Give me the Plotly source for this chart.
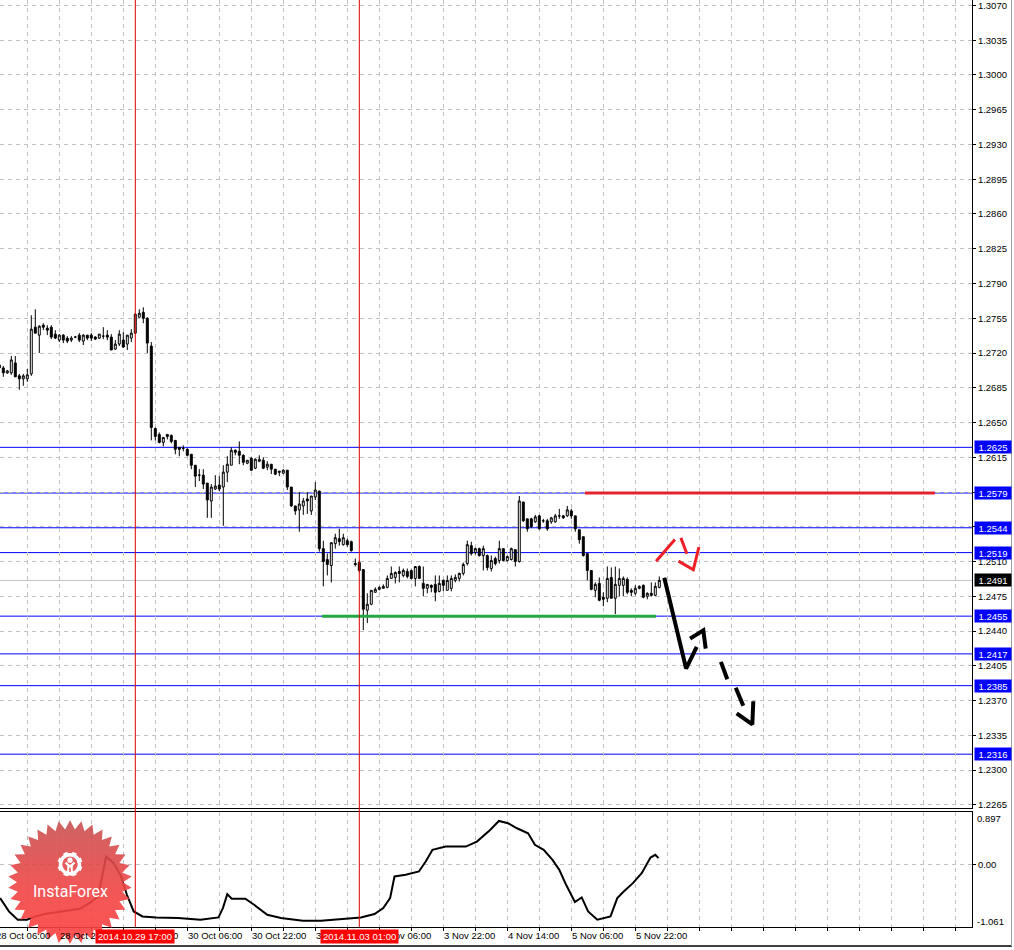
import base64
import numpy as np
import plotly.graph_objects as go

# ---------------- data (EURUSD H1, bar index 0 = 28 Oct 08:00) ----------------
bar_index = list(range(-1, 165))

opens = [1.2708, 1.2705, 1.2700, 1.2700, 1.2710, 1.2697, 1.2694, 1.2694, 1.2699, 1.2746,
         1.2738, 1.2748, 1.2745, 1.2746, 1.2739, 1.2733, 1.2738, 1.2735, 1.2733, 1.2736,
         1.2738, 1.2732, 1.2738, 1.2738, 1.2736, 1.2735, 1.2737, 1.2738, 1.2736, 1.2724,
         1.2729, 1.2733, 1.2729, 1.2735, 1.2740, 1.2756, 1.2761, 1.2755, 1.2727, 1.2644,
         1.2638, 1.2630, 1.2638, 1.2637, 1.2632, 1.2625, 1.2624, 1.2623, 1.2618, 1.2607,
         1.2597, 1.2597, 1.2589, 1.2571, 1.2583, 1.2587, 1.2585, 1.2600, 1.2607, 1.2622,
         1.2621, 1.2617, 1.2609, 1.2614, 1.2604, 1.2611, 1.2612, 1.2605, 1.2608, 1.2603,
         1.2601, 1.2599, 1.2602, 1.2585, 1.2566, 1.2562, 1.2566, 1.2573, 1.2561, 1.2575,
         1.2581, 1.2523, 1.2512, 1.2506, 1.2528, 1.2533, 1.2527, 1.2531, 1.2530, 1.2508,
         1.2509, 1.2502, 1.2461, 1.2467, 1.2479, 1.2482, 1.2483, 1.2484, 1.2493, 1.2494,
         1.2500, 1.2496, 1.2500, 1.2501, 1.2493, 1.2505, 1.2488, 1.2483, 1.2486, 1.2487,
         1.2480, 1.2491, 1.2481, 1.2483, 1.2491, 1.2493, 1.2498, 1.2508, 1.2526, 1.2519,
         1.2523, 1.2516, 1.2516, 1.2503, 1.2513, 1.2511, 1.2523, 1.2511, 1.2512, 1.2522,
         1.2510, 1.2570, 1.2553, 1.2553, 1.2550, 1.2556, 1.2551, 1.2551, 1.2550, 1.2550,
         1.2556, 1.2556, 1.2556, 1.2561, 1.2556, 1.2542, 1.2535, 1.2518, 1.2501, 1.2481,
         1.2488, 1.2474, 1.2473, 1.2494, 1.2473, 1.2486, 1.2486, 1.2492, 1.2481, 1.2478,
         1.2483, 1.2486, 1.2475, 1.2478, 1.2476, 1.2484]

highs = [1.2710, 1.2707, 1.2703, 1.2717, 1.2717, 1.2699, 1.2699, 1.2704, 1.2758, 1.2764,
         1.2748, 1.2750, 1.2748, 1.2748, 1.2743, 1.2739, 1.2739, 1.2737, 1.2737, 1.2737,
         1.2740, 1.2739, 1.2738, 1.2740, 1.2737, 1.2739, 1.2746, 1.2743, 1.2739, 1.2733,
         1.2743, 1.2741, 1.2738, 1.2744, 1.2760, 1.2764, 1.2766, 1.2756, 1.2731, 1.2645,
         1.2640, 1.2635, 1.2638, 1.2638, 1.2632, 1.2625, 1.2627, 1.2624, 1.2618, 1.2607,
         1.2603, 1.2603, 1.2589, 1.2588, 1.2597, 1.2596, 1.2607, 1.2616, 1.2625, 1.2623,
         1.2631, 1.2618, 1.2612, 1.2615, 1.2614, 1.2617, 1.2615, 1.2611, 1.2608, 1.2603,
         1.2601, 1.2603, 1.2602, 1.2585, 1.2566, 1.2580, 1.2574, 1.2580, 1.2576, 1.2590,
         1.2581, 1.2531, 1.2518, 1.2529, 1.2538, 1.2543, 1.2538, 1.2533, 1.2531, 1.2513,
         1.2511, 1.2502, 1.2478, 1.2481, 1.2484, 1.2485, 1.2487, 1.2496, 1.2505, 1.2500,
         1.2505, 1.2503, 1.2503, 1.2502, 1.2505, 1.2506, 1.2505, 1.2487, 1.2487, 1.2496,
         1.2496, 1.2492, 1.2496, 1.2496, 1.2497, 1.2499, 1.2509, 1.2531, 1.2530, 1.2524,
         1.2524, 1.2526, 1.2517, 1.2516, 1.2515, 1.2531, 1.2523, 1.2516, 1.2524, 1.2522,
         1.2576, 1.2570, 1.2553, 1.2554, 1.2557, 1.2557, 1.2553, 1.2553, 1.2555, 1.2558,
         1.2563, 1.2557, 1.2566, 1.2563, 1.2556, 1.2542, 1.2535, 1.2518, 1.2501, 1.2489,
         1.2494, 1.2479, 1.2505, 1.2504, 1.2505, 1.2503, 1.2495, 1.2494, 1.2483, 1.2486,
         1.2486, 1.2487, 1.2479, 1.2489, 1.2489, 1.2495]

lows = [1.2703, 1.2696, 1.2699, 1.2698, 1.2696, 1.2683, 1.2687, 1.2691, 1.2697, 1.2740,
        1.2720, 1.2743, 1.2738, 1.2734, 1.2734, 1.2731, 1.2730, 1.2730, 1.2731, 1.2735,
        1.2731, 1.2728, 1.2733, 1.2732, 1.2733, 1.2734, 1.2734, 1.2733, 1.2723, 1.2723,
        1.2727, 1.2725, 1.2723, 1.2731, 1.2739, 1.2756, 1.2750, 1.2720, 1.2632, 1.2632,
        1.2629, 1.2626, 1.2633, 1.2629, 1.2618, 1.2616, 1.2621, 1.2616, 1.2603, 1.2585,
        1.2591, 1.2583, 1.2554, 1.2554, 1.2582, 1.2581, 1.2546, 1.2590, 1.2607, 1.2617,
        1.2608, 1.2607, 1.2608, 1.2601, 1.2603, 1.2610, 1.2603, 1.2602, 1.2598, 1.2597,
        1.2596, 1.2598, 1.2582, 1.2565, 1.2557, 1.2540, 1.2557, 1.2558, 1.2557, 1.2572,
        1.2520, 1.2485, 1.2496, 1.2489, 1.2523, 1.2526, 1.2526, 1.2525, 1.2520, 1.2505,
        1.2499, 1.2441, 1.2448, 1.2466, 1.2479, 1.2481, 1.2483, 1.2483, 1.2493, 1.2488,
        1.2489, 1.2494, 1.2493, 1.2492, 1.2485, 1.2493, 1.2475, 1.2478, 1.2479, 1.2470,
        1.2479, 1.2480, 1.2481, 1.2480, 1.2489, 1.2490, 1.2496, 1.2506, 1.2516, 1.2517,
        1.2515, 1.2501, 1.2501, 1.2500, 1.2506, 1.2508, 1.2510, 1.2510, 1.2511, 1.2505,
        1.2509, 1.2550, 1.2540, 1.2544, 1.2549, 1.2542, 1.2549, 1.2541, 1.2548, 1.2549,
        1.2553, 1.2553, 1.2555, 1.2553, 1.2540, 1.2528, 1.2515, 1.2491, 1.2481, 1.2474,
        1.2470, 1.2465, 1.2469, 1.2473, 1.2457, 1.2475, 1.2475, 1.2477, 1.2475, 1.2476,
        1.2482, 1.2473, 1.2472, 1.2475, 1.2475, 1.2483]

closes = [1.2705, 1.2700, 1.2702, 1.2713, 1.2696, 1.2694, 1.2697, 1.2698, 1.2744, 1.2740,
          1.2747, 1.2746, 1.2743, 1.2736, 1.2735, 1.2738, 1.2733, 1.2732, 1.2735, 1.2736,
          1.2733, 1.2738, 1.2735, 1.2735, 1.2734, 1.2739, 1.2737, 1.2736, 1.2723, 1.2729,
          1.2739, 1.2726, 1.2738, 1.2740, 1.2759, 1.2760, 1.2755, 1.2730, 1.2645, 1.2636,
          1.2630, 1.2635, 1.2636, 1.2631, 1.2623, 1.2623, 1.2624, 1.2617, 1.2607, 1.2596,
          1.2597, 1.2588, 1.2572, 1.2585, 1.2586, 1.2583, 1.2600, 1.2608, 1.2622, 1.2620,
          1.2617, 1.2610, 1.2612, 1.2602, 1.2613, 1.2613, 1.2604, 1.2608, 1.2603, 1.2598,
          1.2600, 1.2602, 1.2585, 1.2566, 1.2561, 1.2568, 1.2571, 1.2571, 1.2576, 1.2582,
          1.2523, 1.2510, 1.2507, 1.2529, 1.2534, 1.2530, 1.2534, 1.2527, 1.2521, 1.2507,
          1.2501, 1.2462, 1.2467, 1.2481, 1.2482, 1.2484, 1.2485, 1.2493, 1.2498, 1.2499,
          1.2498, 1.2501, 1.2495, 1.2493, 1.2505, 1.2493, 1.2483, 1.2487, 1.2484, 1.2479,
          1.2488, 1.2486, 1.2491, 1.2493, 1.2494, 1.2498, 1.2507, 1.2527, 1.2518, 1.2523,
          1.2516, 1.2523, 1.2504, 1.2511, 1.2508, 1.2523, 1.2511, 1.2515, 1.2523, 1.2510,
          1.2571, 1.2551, 1.2543, 1.2545, 1.2555, 1.2543, 1.2551, 1.2543, 1.2554, 1.2556,
          1.2556, 1.2554, 1.2562, 1.2556, 1.2543, 1.2532, 1.2516, 1.2501, 1.2482, 1.2487,
          1.2471, 1.2472, 1.2493, 1.2473, 1.2487, 1.2493, 1.2493, 1.2479, 1.2479, 1.2483,
          1.2485, 1.2474, 1.2478, 1.2476, 1.2485, 1.2491]

# oscillator in the lower pane (bar index, value)
ind_x = [-0.8, 1.4, 3.6, 5.9, 8.1, 10.3, 13.7, 17.0, 19.2, 21.5, 23.7, 25.7, 27.6, 29.3,
         30.9, 32.6, 34.8, 38.2, 43.7, 49.3, 53.8, 54.9, 56.0, 57.1, 60.5, 62.7, 66.0,
         69.4, 74.9, 79.4, 86.1, 89.4, 92.8, 95.0, 96.7, 97.8, 100.6, 103.9, 105.6, 107.3,
         110.6, 115.6, 118.4, 121.7, 123.9, 126.2, 128.4, 131.2, 132.9, 135.1, 137.3,
         139.0, 140.7, 142.9, 144.6, 146.2, 148.5, 151.8, 153.5, 155.1, 157.4, 159.6,
         161.8, 163.0, 163.8]
ind_v = [-0.581, -0.810, -0.953, -0.953, -0.896, -0.856, -0.821, -0.781, -0.764, -0.667,
         -0.552, 0.135, 0.021, -0.180, -0.523, -0.810, -0.896, -0.913, -0.924, -0.953,
         -0.913, -0.752, -0.512, -0.592, -0.592, -0.695, -0.867, -0.924, -0.970, -0.970,
         -0.924, -0.913, -0.856, -0.752, -0.581, -0.208, -0.180, -0.122, 0.049, 0.250,
         0.307, 0.307, 0.393, 0.593, 0.748, 0.708, 0.622, 0.536, 0.336, 0.250, 0.078,
         -0.094, -0.352, -0.649, -0.569, -0.810, -0.953, -0.896, -0.581, -0.466, -0.323,
         -0.151, 0.118, 0.164, 0.107]

# horizontal levels
blue_levels = [1.2625, 1.2579, 1.2544, 1.2519, 1.2455, 1.2417, 1.2385, 1.2316]
current_price = 1.2491
resistance = {"price": 1.2579, "from": 145.4, "to": 232.9}
support = {"price": 1.2455, "from": 79.7, "to": 163.2}
marker_bars = [33, 89]
marker_texts = ["2014.10.29 17:00", "2014.11.03 01:00"]

# hand-drawn arrows (bar index, price), None separates strokes
red_arrow_x = [163.2, 167.9, None, 169.4, 170.9, None, 168.8, 172.5, 173.9]
red_arrow_y = [1.25104, 1.25321, None, 1.25338, 1.25178, None, 1.25104, 1.25017, 1.25245]
black_arrow_x = [165.25, 170.7, 173.35, None, 171.7, 175.0, 175.6, None, 179.4, 181.0,
                 None, 183.1, 185.0, None, 183.35, 187.25, 187.5]
black_arrow_y = [1.24937, 1.24022, 1.24241, None, 1.24324, 1.24407, 1.24223, None, 1.24090,
                 1.23915, None, 1.23828, 1.23647, None, 1.23570, 1.23459, 1.23693]

# axes
price_ticks = [1.2265, 1.2300, 1.2335, 1.2370, 1.2405, 1.2440, 1.2475, 1.2510, 1.2545,
               1.2580, 1.2615, 1.2650, 1.2685, 1.2720, 1.2755, 1.2790, 1.2825, 1.2860,
               1.2895, 1.2930, 1.2965, 1.3000, 1.3035, 1.3070]
time_label_bars = [-2, 14, 30, 46, 62, 78, 94, 110, 126, 142, 158]
time_labels = ["28 Oct 06:00", "28 Oct 22:00", "29 Oct 14:00", "30 Oct 06:00",
               "30 Oct 22:00", "31 Oct 14:00", "3 Nov 06:00", "3 Nov 22:00",
               "4 Nov 14:00", "5 Nov 06:00", "5 Nov 22:00"]
grid_bars = list(range(-2, 243, 8))
ind_max_label, ind_min_label = "0.897", "-1.061"

# ---------------- layout geometry ----------------
W, H = 1014, 950
PLOT_RIGHT = 972
MAIN_BOTTOM = 810
IND_TOP, IND_BOTTOM = 814, 929
x_range = [-0.825, 242.175]
price_range = [1.22615, 1.30755]
ind_range = [-1.079, 0.897]


def fx(px):
    return px / W


def fy(py):
    return 1 - py / H


FONT = "Liberation Sans, Arial, sans-serif"
GRID = "#c0c0c0"

fig = go.Figure()

fig.add_trace(go.Candlestick(
    x=bar_index, open=opens, high=highs, low=lows, close=closes,
    increasing=dict(line=dict(color="black", width=1), fillcolor="white"),
    decreasing=dict(line=dict(color="black", width=1), fillcolor="black"),
    whiskerwidth=0, hoverinfo="skip", xaxis="x", yaxis="y"))

fig.add_trace(go.Scatter(x=red_arrow_x, y=red_arrow_y, mode="lines",
                         line=dict(color="#ee1f26", width=3), hoverinfo="skip",
                         xaxis="x", yaxis="y"))
fig.add_trace(go.Scatter(x=black_arrow_x, y=black_arrow_y, mode="lines",
                         line=dict(color="black", width=4), hoverinfo="skip",
                         xaxis="x", yaxis="y"))

fig.add_trace(go.Scatter(x=ind_x, y=ind_v, mode="lines",
                         line=dict(color="black", width=2), hoverinfo="skip",
                         xaxis="x2", yaxis="y2"))

shapes = []
shapes.append(dict(type="line", xref="x domain", yref="y", x0=0, x1=1,
                   y0=current_price, y1=current_price,
                   line=dict(color="#c0c0c0", width=1), layer="below"))
for lv in blue_levels:
    shapes.append(dict(type="line", xref="x domain", yref="y", x0=0, x1=1, y0=lv, y1=lv,
                       line=dict(color="#0000ff", width=1), layer="below"))
shapes.append(dict(type="line", xref="x", yref="y", x0=resistance["from"],
                   x1=resistance["to"], y0=resistance["price"], y1=resistance["price"],
                   line=dict(color="#e3262e", width=3)))
shapes.append(dict(type="line", xref="x", yref="y", x0=support["from"],
                   x1=support["to"], y0=support["price"], y1=support["price"],
                   line=dict(color="#22a843", width=3)))
for b in marker_bars:
    shapes.append(dict(type="line", xref="x", yref="paper", x0=b, x1=b,
                       y0=fy(IND_BOTTOM), y1=1, line=dict(color="#dd0000", width=1),
                       layer="above"))
# window frame
shapes.append(dict(type="line", xref="paper", yref="paper", x0=0, x1=fx(1012),
                   y0=fy(948), y1=fy(948), line=dict(color="#404040", width=2)))
shapes.append(dict(type="line", xref="paper", yref="paper", x0=fx(1011.5), x1=fx(1011.5),
                   y0=fy(948), y1=1, line=dict(color="#a0a0a0", width=1)))

annotations = []
# time labels (left-aligned at their tick)
for b, t in zip(time_label_bars, time_labels):
    if b < x_range[0]:
        annotations.append(dict(xref="paper", yref="paper", x=fx(3.3 + 4 * b), y=fy(937.5),
                                text=t, showarrow=False, xanchor="left", yanchor="middle",
                                xshift=-1, font=dict(family=FONT, size=9.5, color="black")))
    else:
        annotations.append(dict(xref="x", yref="paper", x=b, y=fy(937.5), text=t,
                                showarrow=False, xanchor="left", yanchor="middle",
                                xshift=-1, font=dict(family=FONT, size=9.5, color="black")))
for b, t in zip(marker_bars, marker_texts):
    annotations.append(dict(xref="x", yref="paper", x=b, y=fy(938), text=t,
                            showarrow=False, xanchor="center", yanchor="middle",
                            bgcolor="#ff0000", borderpad=2, height=9,
                            font=dict(family=FONT, size=9.5, color="white")))
# price boxes on the right scale
for lv in blue_levels:
    annotations.append(dict(xref="paper", yref="y", x=fx(PLOT_RIGHT + 1.5), y=lv,
                            text=f"{lv:.4f}", showarrow=False, xanchor="left",
                            yanchor="middle", bgcolor="#0000ff", borderpad=1, width=34,
                            height=10, align="center",
                            font=dict(family=FONT, size=9.5, color="white")))
annotations.append(dict(xref="paper", yref="y", x=fx(PLOT_RIGHT + 1.5), y=current_price,
                        text=f"{current_price:.4f}", showarrow=False, xanchor="left",
                        yanchor="middle", bgcolor="#000000", borderpad=1, width=34,
                        height=10, align="center",
                        font=dict(family=FONT, size=9.5, color="white")))
annotations.append(dict(xref="paper", yref="paper", x=fx(PLOT_RIGHT + 3), y=fy(820.5),
                        text=ind_max_label, showarrow=False, xanchor="left",
                        yanchor="middle", font=dict(family=FONT, size=9.5, color="black")))
annotations.append(dict(xref="paper", yref="paper", x=fx(PLOT_RIGHT + 3), y=fy(923.5),
                        text=ind_min_label, showarrow=False, xanchor="left",
                        yanchor="middle", font=dict(family=FONT, size=9.5, color="black")))

# ---------------- InstaForex badge (decoration) ----------------
n_spikes = 34
ang = np.linspace(0, 2 * np.pi, 2 * n_spikes, endpoint=False) - np.pi / 2
rad = np.where(np.arange(2 * n_spikes) % 2 == 0, 62, 53)
cx, cy = 65, 65
star_d = "M" + " L".join(f"{cx + r * np.cos(a):.1f},{cy + r * np.sin(a):.1f}"
                          for r, a in zip(rad, ang)) + " Z"
teeth = "".join(
    f"<rect x='{65 - 2.2:.1f}' y='{47 - 12.5:.1f}' width='4.4' height='4.5' fill='white' "
    f"transform='rotate({k * 45 + 22.5} 65 47)'/>" for k in range(8))
svg = (
    "<svg xmlns='http://www.w3.org/2000/svg' width='130' height='130' viewBox='0 0 130 130'>"
    "<defs><linearGradient id='g' x1='0' y1='0' x2='0' y2='1'>"
    "<stop offset='0' stop-color='#c85252'/><stop offset='0.55' stop-color='#f04444'/>"
    "<stop offset='1' stop-color='#ff4040'/></linearGradient></defs>"
    f"<path d='{star_d}' fill='url(#g)' fill-opacity='0.9'/>"
    "<circle cx='65' cy='47' r='9.5' fill='none' stroke='white' stroke-width='3.5'/>"
    f"{teeth}"
    "<circle cx='65' cy='43' r='2.6' fill='white'/>"
    "<path d='M60.5,45.5 L65,49.5 L69.5,45.5' fill='none' stroke='white' stroke-width='2.2'/>"
    "<rect x='62.2' y='48.5' width='2.0' height='10' fill='white'/>"
    "<rect x='65.8' y='48.5' width='2.0' height='10' fill='white'/>"
    "</svg>")
svg_uri = "data:image/svg+xml;base64," + base64.b64encode(svg.encode()).decode()

images = [dict(source=svg_uri, xref="paper", yref="paper", x=fx(5), y=fy(819),
               sizex=130 / W, sizey=130 / H, xanchor="left", yanchor="top",
               sizing="stretch", layer="above")]
annotations.append(dict(xref="paper", yref="paper", x=fx(70), y=fy(893), text="InstaForex",
                        showarrow=False, xanchor="center", yanchor="middle",
                        font=dict(family="Roboto, sans-serif", size=16, color="white")))

axis_common = dict(showgrid=True, gridcolor=GRID, griddash="4px,4px", gridwidth=1,
                   zeroline=False)

fig.update_layout(
    width=W, height=H, margin=dict(l=0, r=0, t=0, b=0),
    paper_bgcolor="white", plot_bgcolor="white", showlegend=False,
    xaxis=dict(domain=[0, fx(PLOT_RIGHT)], range=x_range, anchor="y",
               tickmode="array", tickvals=grid_bars, showticklabels=False, ticks="",
               showline=True, linecolor="black", linewidth=1,
               rangeslider=dict(visible=False), **axis_common),
    yaxis=dict(domain=[fy(MAIN_BOTTOM), 1], range=price_range, anchor="x", side="right",
               tickmode="array", tickvals=price_ticks,
               ticktext=[f"{p:.4f}" for p in price_ticks],
               ticks="outside", ticklen=3, tickcolor="black", ticklabeloverflow="allow",
               tickfont=dict(family=FONT, size=9.5, color="black"),
               showline=True, linecolor="black", linewidth=1, **axis_common),
    xaxis2=dict(domain=[0, fx(PLOT_RIGHT)], range=x_range, anchor="y2",
                tickmode="array", tickvals=grid_bars, showticklabels=False,
                ticks="outside", ticklen=3, tickcolor="black",
                showline=True, mirror=True, linecolor="black", linewidth=1, **axis_common),
    yaxis2=dict(domain=[fy(IND_BOTTOM), fy(IND_TOP)], range=ind_range, anchor="x2",
                side="right", tickmode="array", tickvals=[0], ticktext=["0.00"],
                ticks="outside", ticklen=3, tickcolor="black",
                tickfont=dict(family=FONT, size=9.5, color="black"),
                showline=True, linecolor="black", linewidth=1, **axis_common),
    shapes=shapes, annotations=annotations, images=images,
)

fig.write_html(
    "out.html",
    config={"staticPlot": True},
    post_script="document.body.style.margin='0';document.body.style.padding='0';"
                "document.body.style.overflow='hidden';"
                "document.documentElement.style.overflow='hidden';")
